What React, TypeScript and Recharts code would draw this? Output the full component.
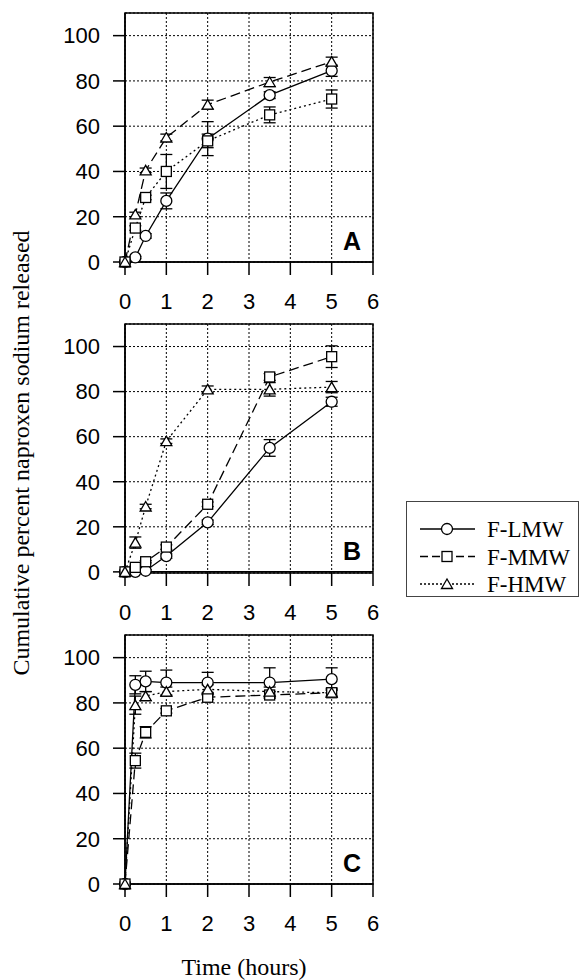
import React from 'react'
import { LineChart, Line, XAxis, YAxis, CartesianGrid, ErrorBar, ReferenceArea } from 'recharts'

// sampling times (hours)
const times = [0, 0.25, 0.5, 1, 2, 3.5, 5]
const xTicks = [0, 1, 2, 3, 4, 5, 6]
const yTicks = [0, 20, 40, 60, 80, 100]
const seriesNames = ['F-LMW', 'F-MMW', 'F-HMW']

// panel A
const aLmw = [0, 2, 11.5, 27, 54.5, 73.7, 84.5]
const aLmwErr = [0, 0.5, 1, 3.5, 7.5, 1.5, 2.5]
const aMmw = [0, 15, 28.5, 40, 53.5, 65, 72]
const aMmwErr = [0, 1, 1, 7.5, 3, 3.5, 4]
const aHmw = [0, 21, 40.5, 55, 69.5, 79.5, 88.5]
const aHmwErr = [0, 1, 1, 1.5, 2, 2, 2]

// panel B
const bLmw = [0, 0, 0.5, 7, 22, 55, 75.5]
const bLmwErr = [0, 0.5, 0.5, 1, 1, 3.7, 2]
const bMmw = [0, 2, 4.5, 11, 30, 86.5, 95.5]
const bMmwErr = [0, 0.5, 0.5, 1, 1, 1.5, 4.8]
const bHmw = [0, 13, 29, 58, 81, 81, 82]
const bHmwErr = [0, 2.5, 1, 1, 1.5, 3, 2.5]

// panel C
const cLmw = [0, 88, 89.5, 89, 89, 89, 90.5]
const cLmwErr = [0, 4, 4.5, 5.5, 4.5, 6.5, 5]
const cMmw = [0, 54.5, 67, 76.5, 82.5, 83.5, 84.5]
const cMmwErr = [0, 3.3, 2.5, 1, 1, 1.5, 1.5]
const cHmw = [0, 79, 83, 85, 86, 85, 84.5]
const cHmwErr = [0, 4, 2, 2, 2, 2, 2]

const DASH = '10 5'
const DOT = '2 3'

function rows(l: number[], le: number[], m: number[], me: number[], h: number[], he: number[]) {
  return times.map((t, i) => ({
    t,
    lmw: l[i], lmwErr: le[i],
    mmw: m[i], mmwErr: me[i],
    hmw: h[i], hmwErr: he[i],
  }))
}

type Shape = 'circle' | 'square' | 'triangle'

function Marker({ cx, cy, shape }: { cx: number; cy: number; shape: Shape }) {
  if (cx == null || cy == null) return null
  const st = { fill: '#fff', stroke: '#000', strokeWidth: 1.3 }
  if (shape === 'circle') return <circle cx={cx} cy={cy} r={5.5} {...st} />
  if (shape === 'square') return <rect x={cx - 5} y={cy - 5} width={10} height={10} {...st} />
  return <polygon points={`${cx},${cy - 5} ${cx + 5.5},${cy + 4.5} ${cx - 5.5},${cy + 4.5}`} {...st} />
}

const dotFor = (shape: Shape) => (p: any) => <Marker key={`${shape}-${p.index}`} cx={p.cx} cy={p.cy} shape={shape} />

const tickStyle = { fontSize: 22, fill: '#000', fontFamily: 'Liberation Sans, Arial, sans-serif' }

function Panel({ data, letter, dashes, top }: { data: any[]; letter: string; dashes: (string | undefined)[]; top: number }) {
  const keys: [string, Shape][] = [['lmw', 'circle'], ['mmw', 'square'], ['hmw', 'triangle']]
  return (
    <div style={{ position: 'absolute', left: 0, top }}>
      <LineChart width={390} height={324} data={data} margin={{ top: 10, right: 17, bottom: 0, left: 0 }}>
        <CartesianGrid stroke="#000" strokeDasharray="2 2" strokeWidth={1} horizontal vertical />
        <XAxis
          dataKey="t"
          type="number"
          domain={[0, 6]}
          ticks={xTicks}
          height={65}
          tickSize={13}
          tickMargin={18}
          tick={tickStyle}
          axisLine={{ stroke: '#000', strokeWidth: 1.5 }}
          tickLine={{ stroke: '#000', strokeWidth: 1.5 }}
        />
        <YAxis
          type="number"
          domain={[0, 110]}
          ticks={yTicks}
          width={125}
          tickSize={12}
          tickMargin={13}
          tick={tickStyle}
          axisLine={{ stroke: '#000', strokeWidth: 1.5 }}
          tickLine={{ stroke: '#000', strokeWidth: 1.5 }}
        />
        <ReferenceArea
          x1={0}
          x2={6}
          y1={0}
          y2={110}
          fill="none"
          fillOpacity={0}
          stroke="#000"
          strokeWidth={1.5}
          label={{
            value: letter,
            position: 'insideBottomRight',
            offset: 12,
            fontSize: 25,
            fontWeight: 'bold',
            fill: '#000',
            fontFamily: 'Liberation Sans, Arial, sans-serif',
          }}
        />
        {keys.map(([k, shape], i) => (
          <Line
            key={k}
            dataKey={k}
            name={seriesNames[i]}
            type="linear"
            stroke="#000"
            strokeWidth={1.3}
            strokeDasharray={dashes[i]}
            dot={dotFor(shape)}
            activeDot={false}
            isAnimationActive={false}
          >
            <ErrorBar dataKey={`${k}Err`} width={6} stroke="#000" strokeWidth={1.3} direction="y" />
          </Line>
        ))}
      </LineChart>
    </div>
  )
}

function LegendBox() {
  const items: [string, Shape, string | undefined][] = [
    [seriesNames[0], 'circle', undefined],
    [seriesNames[1], 'square', '8 4'],
    [seriesNames[2], 'triangle', '2 2'],
  ]
  return (
    <svg style={{ position: 'absolute', left: 406, top: 501 }} width={174} height={97}>
      <rect x={0.5} y={0.5} width={172} height={95} fill="#fff" stroke="#444" strokeWidth={1} />
      {items.map(([name, shape, dash], i) => {
        const cy = 28 + i * 27.5
        return (
          <g key={name}>
            <line x1={14} x2={69} y1={cy} y2={cy} stroke="#000" strokeWidth={1.3} strokeDasharray={dash} />
            <Marker cx={41} cy={cy} shape={shape} />
            <text x={81} y={cy + 8} fontSize={23} fontFamily="Liberation Serif, Times New Roman, serif" fill="#000">
              {name}
            </text>
          </g>
        )
      })}
    </svg>
  )
}

export default function App() {
  const serif = 'Liberation Serif, Times New Roman, serif'
  return (
    <div style={{ position: 'absolute', left: 0, top: 0, width: 581, height: 980, background: '#fff' }}>
      <Panel data={rows(aLmw, aLmwErr, aMmw, aMmwErr, aHmw, aHmwErr)} letter="A" dashes={[undefined, DOT, DASH]} top={3} />
      <Panel data={rows(bLmw, bLmwErr, bMmw, bMmwErr, bHmw, bHmwErr)} letter="B" dashes={[undefined, DASH, DOT]} top={314} />
      <Panel data={rows(cLmw, cLmwErr, cMmw, cMmwErr, cHmw, cHmwErr)} letter="C" dashes={[undefined, DASH, DOT]} top={625} />
      <svg style={{ position: 'absolute', left: 0, top: 0, pointerEvents: 'none' }} width={581} height={980}>
        <text
          x={0}
          y={0}
          transform="translate(29 453) rotate(-90)"
          textAnchor="middle"
          fontSize={24}
          fontFamily={serif}
          fill="#000"
        >
          Cumulative percent naproxen sodium released
        </text>
        <text x={244} y={975} textAnchor="middle" fontSize={24} fontFamily={serif} fill="#000">
          Time (hours)
        </text>
      </svg>
      <LegendBox />
    </div>
  )
}
